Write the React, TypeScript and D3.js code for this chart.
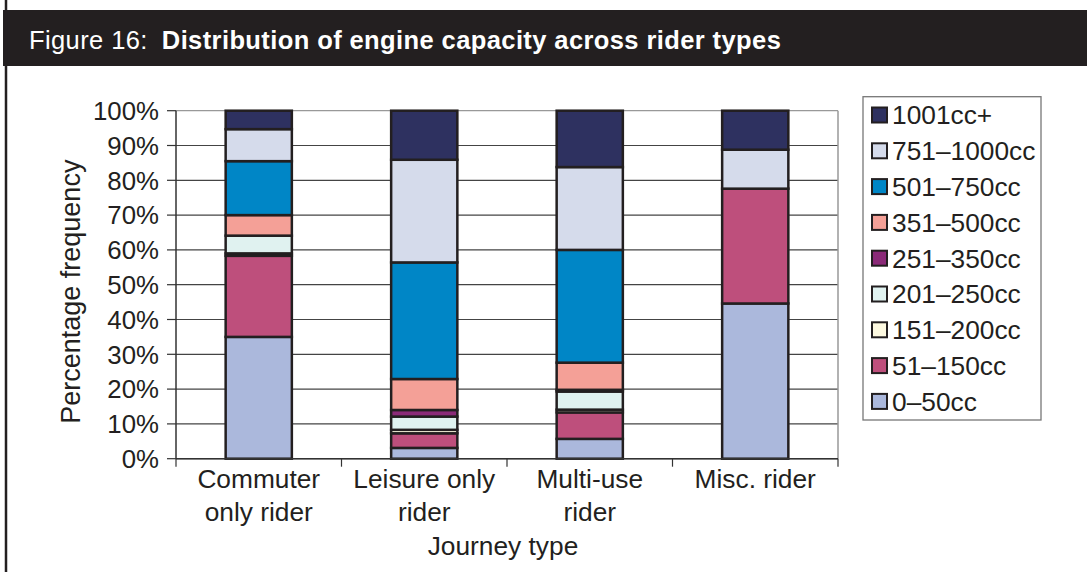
import React from "react";
import * as d3 from "d3";

const categories = ["Commuter only rider", "Leisure only rider", "Multi-use rider", "Misc. rider"];
const categoryLines = [["Commuter", "only rider"], ["Leisure only", "rider"], ["Multi-use", "rider"], ["Misc. rider"]];
const seriesNames = ["0–50cc", "51–150cc", "151–200cc", "201–250cc", "251–350cc", "351–500cc", "501–750cc", "751–1000cc", "1001cc+"];
const seriesColors = ["#abb8dc", "#be4f7c", "#fdf9e0", "#e0f2f0", "#8b2a78", "#f4a097", "#0086c6", "#d5dbeb", "#2e3160"];
// values per category, in series order (bottom to top)
const commuter = [35.0, 23.3, 0.7, 5.1, 0.0, 5.9, 15.5, 9.2, 5.3];
const leisure = [3.1, 4.2, 1.0, 3.8, 1.9, 8.9, 33.5, 29.5, 14.1];
const multiUse = [5.7, 7.6, 0.8, 5.2, 0.5, 7.8, 32.4, 23.8, 16.2];
const misc = [44.6, 33.0, 0.0, 0.0, 0.0, 0.0, 0.0, 11.2, 11.2];
const yTicks = [0, 10, 20, 30, 40, 50, 60, 70, 80, 90, 100];

const font = "'Liberation Sans', Arial, Helvetica, sans-serif";

export default function App() {
  const W = 1087, H = 572;
  const left = 176, right = 838, top = 110.7, bottom = 458.7;
  const x = d3.scaleBand<string>().domain(categories).range([left, right]).paddingInner(0.6).paddingOuter(0.3);
  const xb = d3.scaleBand<string>().domain(categories).range([left, right]);
  const y = d3.scaleLinear().domain([0, 100]).range([bottom, top]);

  const allVals = [commuter, leisure, multiUse, misc];
  const rows = categories.map((c, i) => {
    const r: any = { cat: c };
    seriesNames.forEach((s, j) => (r[s] = allVals[i][j]));
    return r;
  });
  const stacked = d3.stack<any>().keys(seriesNames)(rows);

  const legX = 863, legY = 96.7, legW = 178, legH = 323.3;
  const legStep = 35.8, legFirst = 115;
  const fs = 26.3;

  return (
    <svg width={W} height={H} style={{ position: "absolute", left: 0, top: 0, background: "#fff" }} fontFamily={font}>
      <rect x={0} y={0} width={W} height={H} fill="#fff" />
      {/* header band */}
      <rect x={3} y={10} width={W - 3} height={56} fill="#231f20" />
      <line x1={6} x2={6} y1={0} y2={H} stroke="#231f20" strokeWidth={2.5} />
      <text x={29} y={48.5} fill="#fff" fontSize={25.5} letterSpacing={0.4}>
        <tspan>Figure 16:</tspan>
        <tspan dx={14} fontWeight="bold">Distribution of engine capacity across rider types</tspan>
      </text>

      {/* gridlines */}
      {yTicks.map((t) => (
        <line key={"g" + t} x1={left} x2={right} y1={y(t)} y2={y(t)} stroke={t === 100 ? "#999" : "#444"} strokeWidth={1.2} />
      ))}
      {/* plot frame right */}
      <line x1={right} x2={right} y1={top} y2={bottom} stroke="#999" strokeWidth={1.5} />

      {/* bars */}
      {stacked.map((s, si) =>
        s.map((d, ci) => {
          const h = y(d[0]) - y(d[1]);
          if (h <= 0.01) return null;
          return (
            <rect
              key={si + "-" + ci}
              x={x(categories[ci])}
              y={y(d[1])}
              width={x.bandwidth()}
              height={h}
              fill={seriesColors[si]}
              stroke="#231f20"
              strokeWidth={2.5}
            />
          );
        })
      )}

      {/* axes */}
      <line x1={left} x2={left} y1={top} y2={bottom} stroke="#333" strokeWidth={1.5} />
      <line x1={left} x2={right} y1={bottom} y2={bottom} stroke="#333" strokeWidth={1.5} />
      {yTicks.map((t) => (
        <g key={"t" + t}>
          <line x1={left - 9} x2={left} y1={y(t)} y2={y(t)} stroke="#333" strokeWidth={1.2} />
          <text x={159} y={y(t)} dy="0.36em" textAnchor="end" fontSize={25.8} fill="#231f20">
            {t}%
          </text>
        </g>
      ))}
      {categories.map((c, i) => (
        <line key={"xt" + i} x1={xb(c)!} x2={xb(c)!} y1={bottom} y2={bottom + 8} stroke="#333" strokeWidth={1.2} />
      ))}
      <line x1={right} x2={right} y1={bottom} y2={bottom + 8} stroke="#333" strokeWidth={1.2} />
      {categories.map((c, i) => (
        <text key={"xl" + i} x={xb(c)! + xb.bandwidth() / 2} textAnchor="middle" fontSize={fs} fill="#231f20">
          {categoryLines[i].map((ln, k) => (
            <tspan key={k} x={xb(c)! + xb.bandwidth() / 2} y={488 + k * 32.5}>
              {ln}
            </tspan>
          ))}
        </text>
      ))}
      <text x={(left + right) / 2 - 4} y={555} textAnchor="middle" fontSize={fs} fill="#231f20">
        Journey type
      </text>
      <text transform={`translate(80, ${(top + bottom) / 2 + 7}) rotate(-90)`} textAnchor="middle" fontSize={27} fill="#231f20">
        Percentage frequency
      </text>

      {/* legend */}
      <rect x={legX} y={legY} width={legW} height={legH} fill="#fff" stroke="#777" strokeWidth={1.3} />
      {seriesNames
        .map((n, i) => ({ n, c: seriesColors[i] }))
        .reverse()
        .map((it, k) => {
          const cy = legFirst + k * legStep;
          return (
            <g key={it.n}>
              <rect x={872} y={cy - 7.5} width={15} height={15} fill={it.c} stroke="#231f20" strokeWidth={2} />
              <text x={892} y={cy} dy="0.36em" fontSize={fs} fill="#231f20">
                {it.n}
              </text>
            </g>
          );
        })}
    </svg>
  );
}
